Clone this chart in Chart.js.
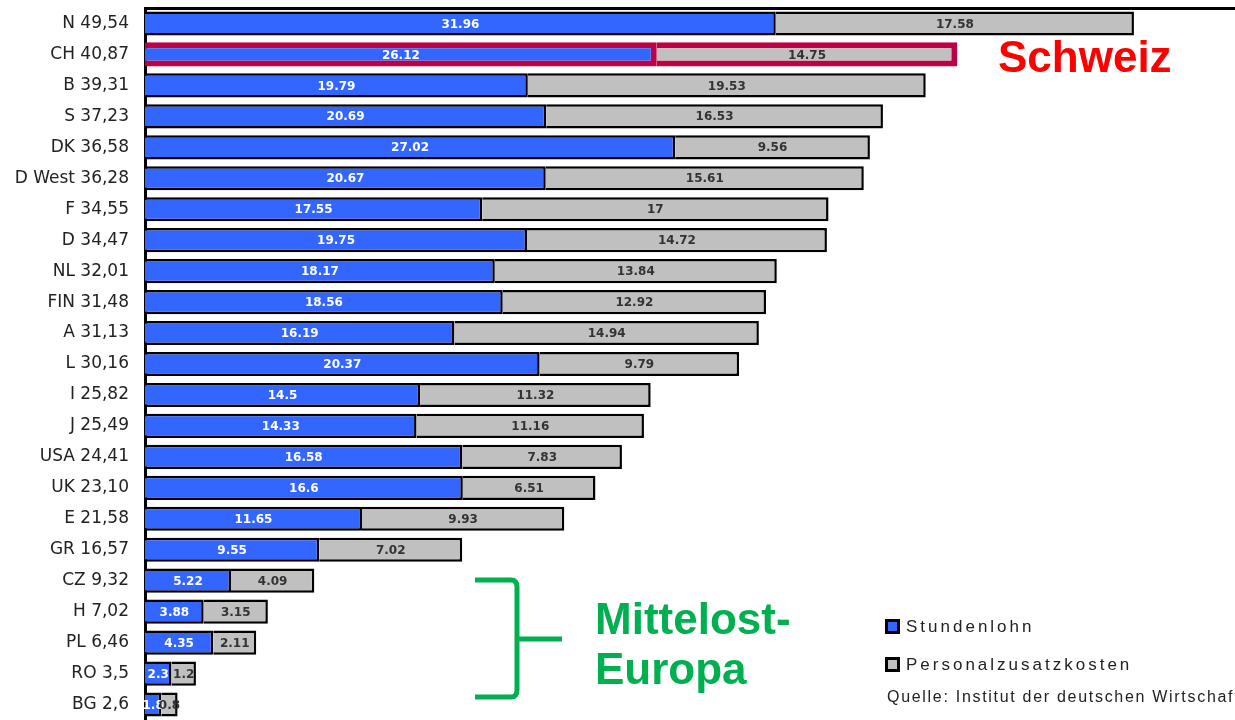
<!DOCTYPE html>
<html lang="de">
<head>
<meta charset="utf-8">
<title>Arbeitskosten je Stunde</title>
<script src="https://cdn.jsdelivr.net/npm/chart.js@4.4.1/dist/chart.umd.min.js"></script>
<style>
    html, body { margin: 0; padding: 0; background: #fff; overflow: hidden; }
    canvas { display: block; }
</style>
</head>
<body>
<canvas id="chart" width="1235" height="720"></canvas>
<script>
const categories = [
    "N 49,54", "CH 40,87", "B 39,31", "S 37,23", "DK 36,58", "D West 36,28",
    "F 34,55", "D 34,47", "NL 32,01", "FIN 31,48", "A 31,13", "L 30,16",
    "I 25,82", "J 25,49", "USA 24,41", "UK 23,10", "E 21,58", "GR 16,57",
    "CZ 9,32", "H 7,02", "PL 6,46", "RO 3,5", "BG 2,6"
];
const stundenlohn = [
    31.96, 26.12, 19.79, 20.69, 27.02, 20.67, 17.55, 19.75, 18.17, 18.56, 16.19, 20.37,
    14.5, 14.33, 16.58, 16.6, 11.65, 9.55, 5.22, 3.88, 4.35, 2.3, 1.8
];
const zusatzkosten = [
    17.58, 14.75, 19.53, 16.53, 9.56, 15.61, 17, 14.72, 13.84, 12.92, 14.94, 9.79,
    11.32, 11.16, 7.83, 6.51, 9.93, 7.02, 4.09, 3.15, 2.11, 1.2, 0.8
];
const seriesNames = ["Stundenlohn", "Personalzusatzkosten"];
const highlighted = "CH 40,87";

const BLUE = "#3366ff";
const GREY = "#c0c0c0";
const RED_FRAME = "#c00046";
const GREEN = "#00b050";

const hlIndex = categories.indexOf(highlighted);
const frameColor = ctx => ctx.dataIndex === hlIndex ? RED_FRAME : "#000";
const frameWidth = ctx => ctx.dataIndex === hlIndex ? 6 : 2.5;

// value labels centred in the visible part of every bar segment
const barLabels = {
    id: "barLabels",
    afterDatasetsDraw(chart) {
        const { ctx, chartArea } = chart;
        const colors = ["#fff", "#333"];
        ctx.save();
        ctx.font = "bold 12px 'DejaVu Sans'";
        ctx.textAlign = "center";
        ctx.textBaseline = "middle";
        chart.data.datasets.forEach((ds, di) => {
            const meta = chart.getDatasetMeta(di);
            meta.data.forEach((bar, i) => {
                const { x, y, base } = bar.getProps(["x", "y", "base"], true);
                const left = Math.max(Math.min(x, base), chartArea.left);
                const right = Math.max(x, base);
                ctx.fillStyle = colors[di];
                ctx.fillText(String(ds.data[i]), (left + right) / 2, y + 1);
            });
        });
        ctx.restore();
    }
};

// notes, brace and legend drawn on top of the chart
const notes = {
    id: "notes",
    afterDraw(chart) {
        const ctx = chart.ctx;
        ctx.save();

        ctx.textAlign = "left";
        ctx.textBaseline = "alphabetic";
        ctx.font = "bold 44px 'Liberation Sans', Arial";
        ctx.fillStyle = "#ff0000";
        ctx.fillText("Schweiz", 998, 72);

        ctx.fillStyle = GREEN;
        ctx.fillText("Mittelost-", 595, 634);
        ctx.fillText("Europa", 595, 684);

        ctx.strokeStyle = GREEN;
        ctx.lineWidth = 5;
        ctx.lineJoin = "round";
        ctx.beginPath();
        ctx.moveTo(475, 580);
        ctx.lineTo(511, 580);
        ctx.quadraticCurveTo(517, 580, 517, 587);
        ctx.lineTo(517, 690);
        ctx.quadraticCurveTo(517, 697, 511, 697);
        ctx.lineTo(475, 697);
        ctx.moveTo(517, 639);
        ctx.lineTo(562, 639);
        ctx.stroke();

        // legend
        const ds = chart.data.datasets;
        const rows = [627, 665];
        ctx.font = "17px 'Liberation Sans', Arial";
        ctx.textBaseline = "middle";
        ds.forEach((d, i) => {
            ctx.fillStyle = "#000";
            ctx.fillRect(885, rows[i] - 8, 15, 15);
            ctx.fillStyle = d.backgroundColor;
            ctx.fillRect(888, rows[i] - 5, 9, 9);
            ctx.fillStyle = "#222";
            ctx.letterSpacing = "3px";
            ctx.fillText(d.label, 906, rows[i]);
        });

        ctx.font = "16px 'Liberation Sans', Arial";
        ctx.letterSpacing = "1.7px";
        ctx.fillStyle = "#222";
        ctx.fillText("Quelle: Institut der deutschen Wirtschaft", 887, 698);
        ctx.restore();
    }
};

new Chart(document.getElementById("chart"), {
    type: "bar",
    data: {
        labels: categories,
        datasets: [
            {
                label: seriesNames[0],
                data: stundenlohn,
                backgroundColor: BLUE,
                borderColor: frameColor,
                borderWidth: frameWidth,
                clip: 0,
            },
            {
                label: seriesNames[1],
                data: zusatzkosten,
                backgroundColor: GREY,
                borderColor: frameColor,
                borderWidth: frameWidth,
                clip: 0,
            }
        ]
    },
    options: {
        indexAxis: "y",
        responsive: false,
        animation: false,
        layout: {
            padding: { top: 8, right: 0, bottom: 0, left: 0 }
        },
        datasets: {
            bar: {
                categoryPercentage: 1,
                barPercentage: 0.78,
                borderSkipped: "start",
            }
        },
        plugins: {
            legend: { display: false },
            tooltip: { enabled: false },
        },
        scales: {
            x: {
                type: "linear",
                position: "top",
                stacked: true,
                min: 1,
                max: 54.5,
                grid: { display: false, drawTicks: false },
                ticks: { display: false },
                border: { display: true, color: "#000", width: 3 },
                afterFit(scale) {
                    scale.height = 0;
                    scale.paddingLeft = 0;
                    scale.paddingRight = 0;
                }
            },
            y: {
                stacked: true,
                grid: { display: false, drawTicks: false },
                border: { display: true, color: "#000", width: 3 },
                ticks: {
                    autoSkip: false,
                    padding: 16,
                    color: "#222",
                    font: { family: "'DejaVu Sans'", size: 17 },
                },
                afterFit(scale) {
                    scale.width = 145;
                    scale.paddingTop = 0;
                    scale.paddingBottom = 0;
                }
            }
        }
    },
    plugins: [barLabels, notes]
});
</script>
</body>
</html>
